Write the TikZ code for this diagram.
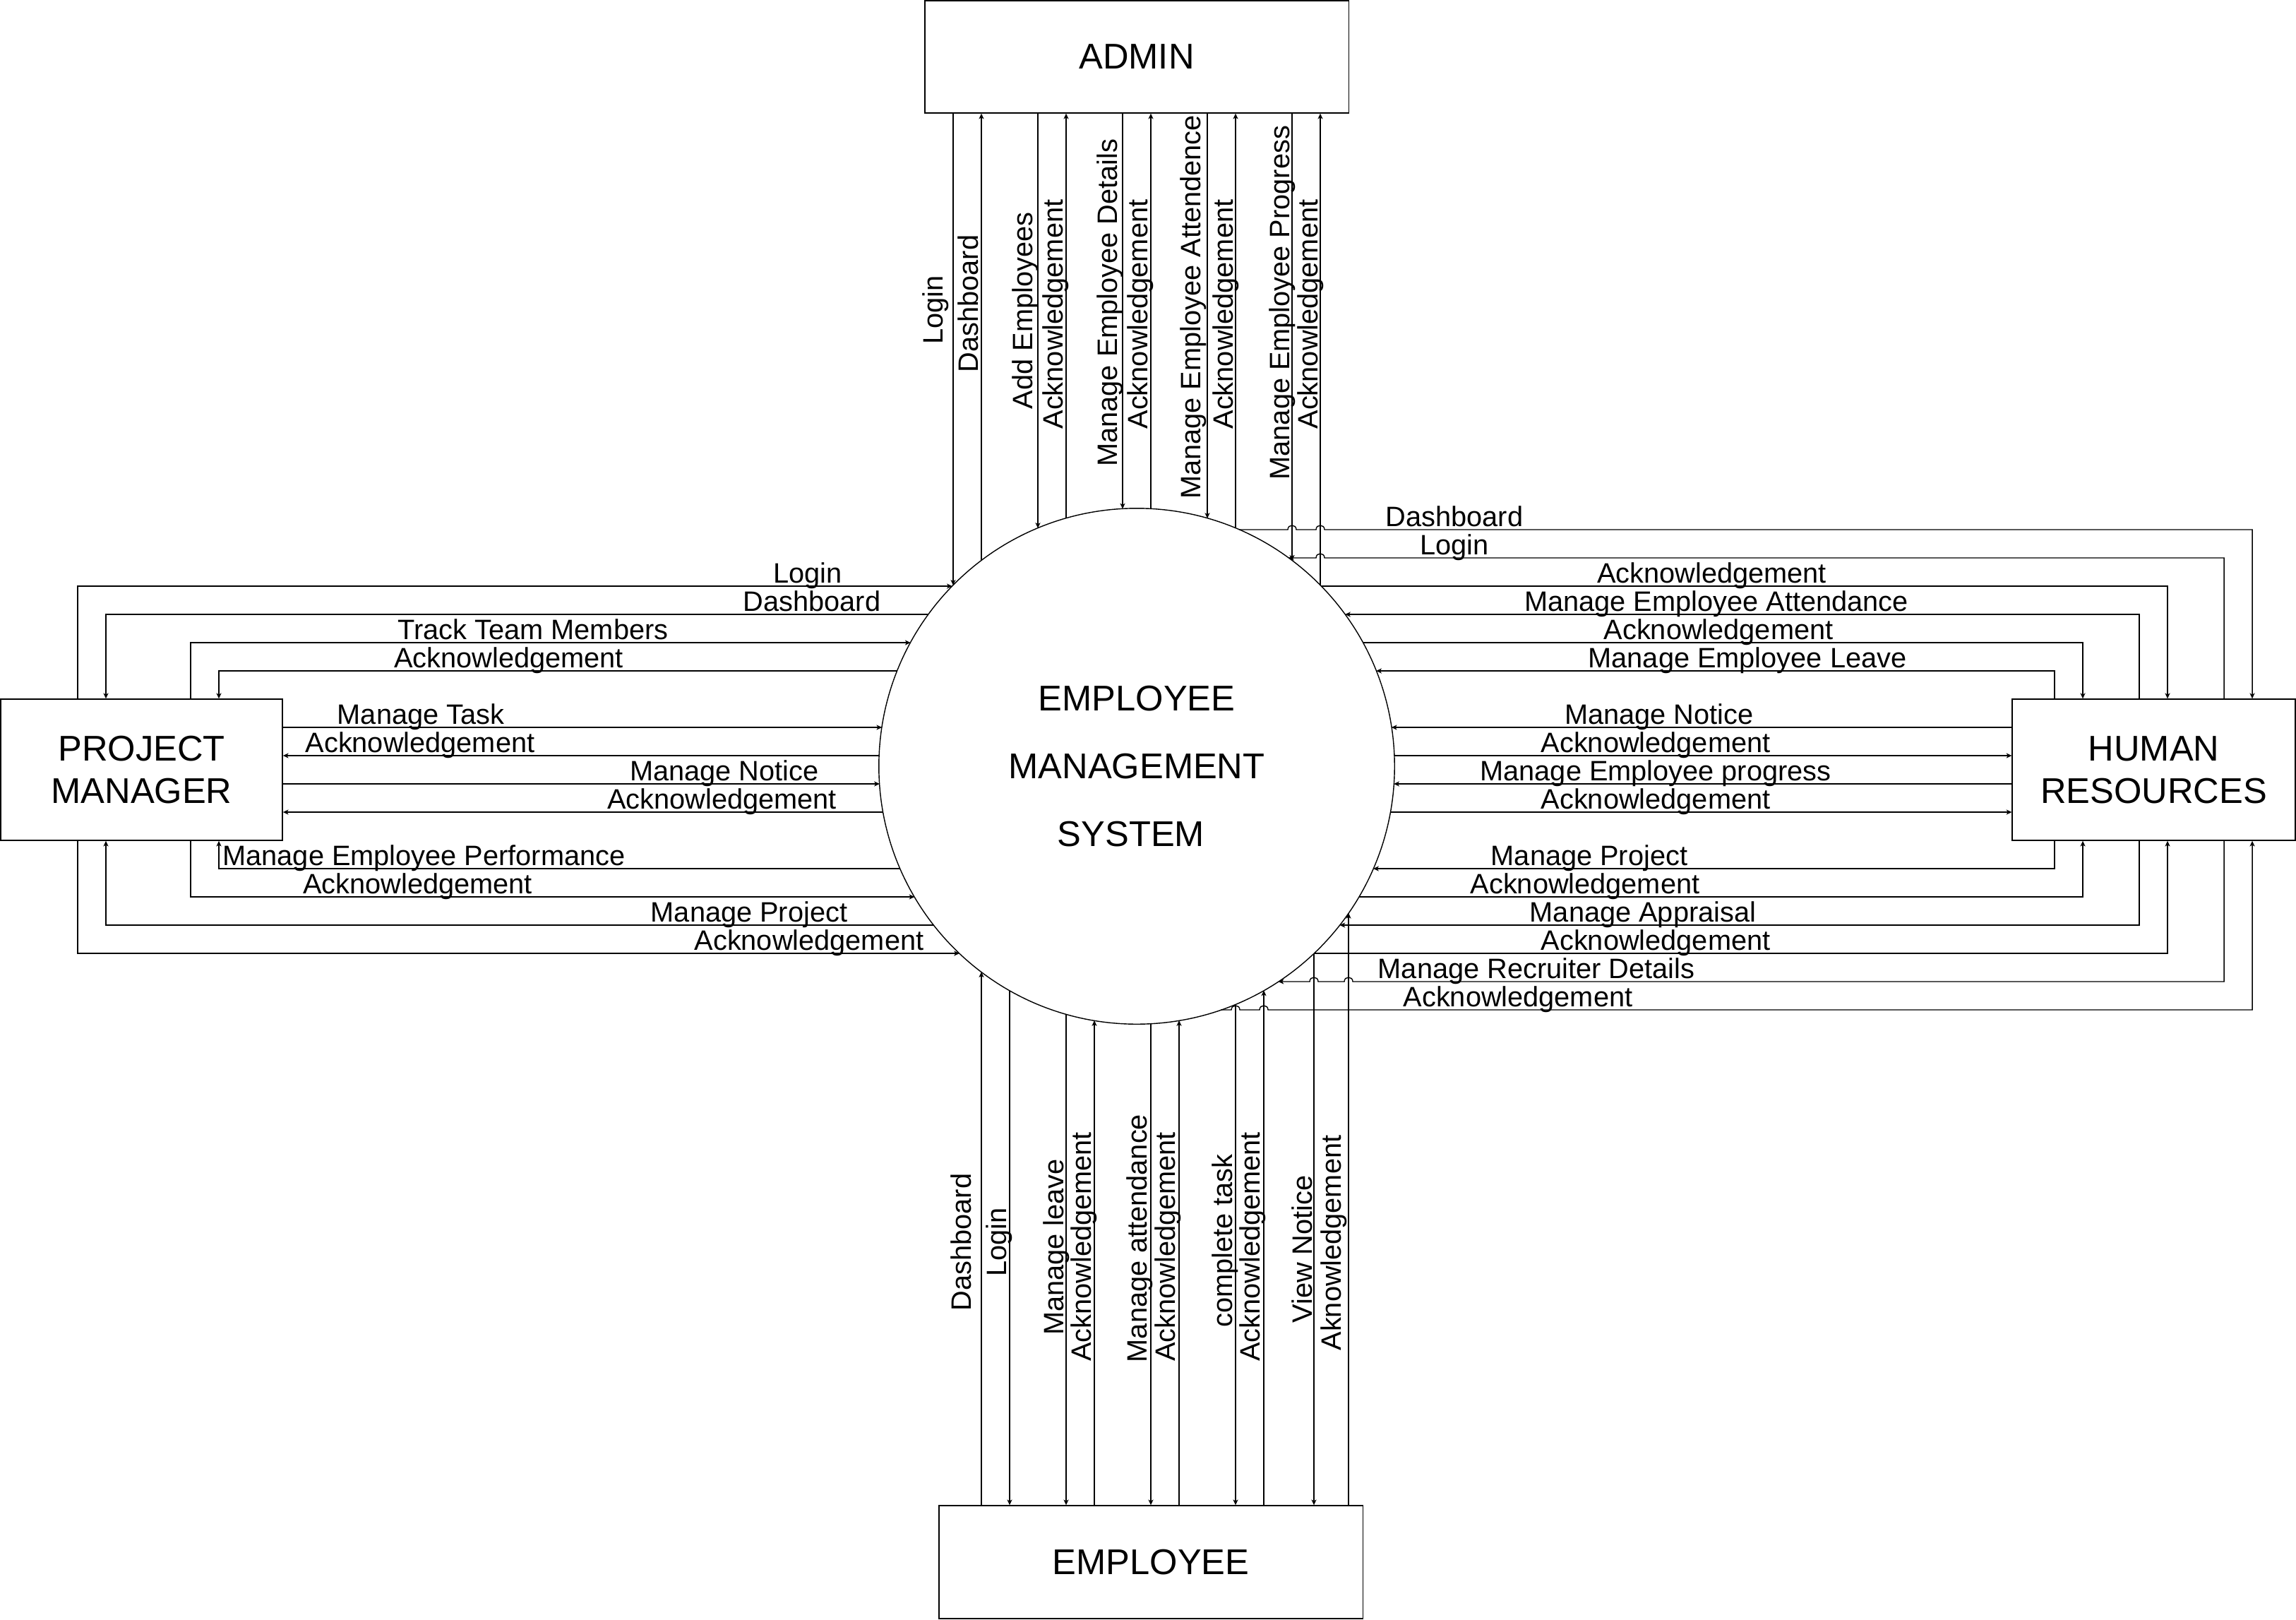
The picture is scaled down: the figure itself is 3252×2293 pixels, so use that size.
\documentclass[tikz,border=0pt]{standalone}
\usepackage{fontspec}
\setmainfont{Liberation Sans}
\usetikzlibrary{arrows.meta}
\newcommand\lblfont{\fontsize{11.3pt}{13pt}\selectfont}
\newcommand\boxfont{\fontsize{14.4pt}{17.1pt}\selectfont}
\newcommand\emsfont{\fontsize{14.4pt}{27.2pt}\selectfont}
\tikzset{
  ln/.style={line width=0.4pt, draw=black},
  arr/.style={ln, -{Stealth[length=2.2pt,width=2pt,inset=0.6pt]}},
  lbl/.style={font=\lblfont, inner sep=0pt, anchor=base},
  vlbl/.style={lbl, rotate=90},
  box/.style={draw, line width=0.4pt, inner sep=0pt, align=center, font=\boxfont, fill=white},
}
\begin{document}
\begin{tikzpicture}[x=0.01cm, y=-0.01cm]
\useasboundingbox (0,0) rectangle (3252,2293);
% entities
\node[box, minimum width=6cm, minimum height=1.59cm] (admin) at (1610,80.5) {ADMIN};
\node[box, minimum width=6cm, minimum height=1.6cm] (employee) at (1630,2212) {EMPLOYEE};
\node[box, minimum width=3.99cm, minimum height=2cm] (pm) at (200.5,1090) {PROJECT\\MANAGER};
\node[box, minimum width=4.005cm, minimum height=2cm] (hr) at (3050.5,1090) {HUMAN\\RESOURCES};
\node[draw, circle, line width=0.4pt, minimum size=7.3cm, inner sep=0pt, outer sep=0pt, align=center, font=\emsfont] (ems) at (1610,1085) {EMPLOYEE\\MANAGEMENT\\SYSTEM\hspace*{0.16cm}};
% circle points
\coordinate (T1) at (1350,828.8);
\coordinate (T2) at (1390,793.8);
\coordinate (T3) at (1470,747.9);
\coordinate (T4) at (1510,734.0);
\coordinate (T5) at (1590,720.5);
\coordinate (T6) at (1630,720.5);
\coordinate (T7) at (1710,734.0);
\coordinate (T8) at (1750,747.9);
\coordinate (T9) at (1830,793.8);
\coordinate (T10) at (1870,828.8);
\coordinate (B1) at (1390,1376.2);
\coordinate (B2) at (1430,1402.5);
\coordinate (B3) at (1510,1436.0);
\coordinate (B4) at (1550,1445.0);
\coordinate (B5) at (1630,1449.5);
\coordinate (B6) at (1670,1445.0);
\coordinate (B7) at (1750,1422.1);
\coordinate (B8) at (1790,1402.5);
\coordinate (B9) at (1861,1350.0);
\coordinate (B10) at (1910,1292.9);
\coordinate (L1) at (1348.8,830);
\coordinate (L2) at (1315.0,870);
\coordinate (L3) at (1289.7,910);
\coordinate (L4) at (1270.9,950);
\coordinate (L5) at (1249.2,1030);
\coordinate (L6) at (1245.3,1070);
\coordinate (L7) at (1245.9,1110);
\coordinate (L8) at (1250.8,1150);
\coordinate (L9) at (1275.0,1230);
\coordinate (L10) at (1295.4,1270);
\coordinate (L11) at (1322.6,1310);
\coordinate (L12) at (1359.0,1350);
\coordinate (R1) at (1754.9,750);
\coordinate (R2) at (1824.9,790);
\coordinate (R3) at (1871.2,830);
\coordinate (R4) at (1905.0,870);
\coordinate (R5) at (1930.3,910);
\coordinate (R6) at (1949.1,950);
\coordinate (R7) at (1970.8,1030);
\coordinate (R8) at (1974.7,1070);
\coordinate (R9) at (1974.1,1110);
\coordinate (R10) at (1969.2,1150);
\coordinate (R11) at (1945.0,1230);
\coordinate (R12) at (1924.6,1270);
\coordinate (R13) at (1897.4,1310);
\coordinate (R14) at (1861.0,1350);
\coordinate (R15) at (1810.5,1390);
\coordinate (R16) at (1729.2,1430);
% ADMIN flows
\draw[arr] (T1 |- admin.south) -- (T1);
\draw[arr] (T2) -- (T2 |- admin.south);
\draw[arr] (T3 |- admin.south) -- (T3);
\draw[arr] (T4) -- (T4 |- admin.south);
\draw[arr] (T5 |- admin.south) -- (T5);
\draw[arr] (T6) -- (T6 |- admin.south);
\draw[arr] (T7 |- admin.south) -- (T7);
\draw[arr] (T8) -- (T8 |- admin.south);
\draw[arr] (T9 |- admin.south) -- (T9);
\draw[arr] (T10) -- (T10 |- admin.south);
% EMPLOYEE flows
\draw[arr] (B1 |- employee.north) -- (B1);
\draw[arr] (B2) -- (B2 |- employee.north);
\draw[arr] (B3) -- (B3 |- employee.north);
\draw[arr] (B4 |- employee.north) -- (B4);
\draw[arr] (B5) -- (B5 |- employee.north);
\draw[arr] (B6 |- employee.north) -- (B6);
\draw[arr] (B7) -- (B7 |- employee.north);
\draw[arr] (B8 |- employee.north) -- (B8);
\draw[arr] (B9) -- (B9 |- employee.north);
\draw[arr] (B10 |- employee.north) -- (B10);
% PROJECT MANAGER flows
\draw[arr] (pm.north -| 110,0) |- (L1);
\draw[arr] (L2) -| (pm.north -| 150,0);
\draw[arr] (pm.north -| 270,0) |- (L3);
\draw[arr] (L4) -| (pm.north -| 310,0);
\draw[arr] (L5 -| pm.east) -- (L5);
\draw[arr] (L6) -- (L6 -| pm.east);
\draw[arr] (L7 -| pm.east) -- (L7);
\draw[arr] (L8) -- (L8 -| pm.east);
\draw[arr] (L9) -| (pm.south -| 310,0);
\draw[arr] (pm.south -| 270,0) |- (L10);
\draw[arr] (L11) -| (pm.south -| 150,0);
\draw[arr] (pm.south -| 110,0) |- (L12);
% HUMAN RESOURCES flows
\draw[arr] (R1) -- (1824,750) .. controls (1824,742) and (1836,742) .. (1836,750) -- (1864,750) .. controls (1864,742) and (1876,742) .. (1876,750) -| (hr.north -| 3190,0);
\draw[arr] (hr.north -| 3150,0) |- (1876,790) .. controls (1876,782) and (1864,782) .. (1864,790) -- (R2);
\draw[arr] (R3) -| (hr.north -| 3070,0);
\draw[arr] (hr.north -| 3030,0) |- (R4);
\draw[arr] (R5) -| (hr.north -| 2950,0);
\draw[arr] (hr.north -| 2910,0) |- (R6);
\draw[arr] (R7 -| hr.west) -- (R7);
\draw[arr] (R8) -- (R8 -| hr.west);
\draw[arr] (R9 -| hr.west) -- (R9);
\draw[arr] (R10) -- (R10 -| hr.west);
\draw[arr] (hr.south -| 2910,0) |- (R11);
\draw[arr] (R12) -| (hr.south -| 2950,0);
\draw[arr] (hr.south -| 3030,0) |- (R13);
\draw[arr] (R14) -| (hr.south -| 3070,0);
\draw[arr] (hr.south -| 3150,0) |- (1916,1390) .. controls (1916,1382) and (1904,1382) .. (1904,1390) -- (1867,1390) .. controls (1867,1382) and (1855,1382) .. (1855,1390) -- (R15);
\draw[arr] (R16) -- (1744,1430) .. controls (1744,1422) and (1756,1422) .. (1756,1430) -- (1784,1430) .. controls (1784,1422) and (1796,1422) .. (1796,1430) -| (hr.south -| 3190,0);
% top labels
\node[vlbl] (ta1) at (1335,439) {Login};
\node[vlbl] (ta2) at (1385,430) {Dashboard};
\node[vlbl] (ta3) at (1462,440) {Add Employees};
\node[vlbl] (ta4) at (1505,445) {Acknowledgement};
\node[vlbl] (ta5) at (1582,428.6) {Manage Employee Details};
\node[vlbl] (ta6) at (1625,445) {Acknowledgement};
\node[vlbl] (ta7) at (1700,435) {Manage Employee Attendence};
\node[vlbl] (ta8) at (1746,445) {Acknowledgement};
\node[vlbl] (ta9) at (1826,428.6) {Manage Employee Progress};
\node[vlbl] (ta10) at (1866,445) {Acknowledgement};
% bottom labels
\node[vlbl] (tb1) at (1375,1759) {Dashboard};
\node[vlbl] (tb2) at (1425.6,1759) {Login};
\node[vlbl] (tb3) at (1506,1766) {Manage leave};
\node[vlbl] (tb4) at (1545,1765.5) {Acknowledgement};
\node[vlbl] (tb5) at (1624,1753.5) {Manage attendance};
\node[vlbl] (tb6) at (1664,1765.5) {Acknowledgement};
\node[vlbl] (tb7) at (1745,1757) {complete task};
\node[vlbl] (tb8) at (1784,1765.5) {Acknowledgement};
\node[vlbl] (tb9) at (1858,1769) {View Notice};
\node[vlbl] (tb10) at (1899,1760) {Aknowledgement};
% left labels
\node[lbl] (tl1) at (1144,825) {Login};
\node[lbl] (tl2) at (1150,865) {Dashboard};
\node[lbl] (tl3) at (755,905) {Track Team Members};
\node[lbl] (tl4) at (720.5,945) {Acknowledgement};
\node[lbl] (tl5) at (596,1025) {Manage Task};
\node[lbl] (tl6) at (595,1065) {Acknowledgement};
\node[lbl] (tl7) at (1026,1105) {Manage Notice};
\node[lbl] (tl8) at (1022.5,1145) {Acknowledgement};
\node[lbl] (tl9) at (600.5,1225) {Manage Employee Performance};
\node[lbl] (tl10) at (591.5,1265) {Acknowledgement};
\node[lbl] (tl11) at (1061,1305) {Manage Project};
\node[lbl] (tl12) at (1146,1345) {Acknowledgement};
% right labels
\node[lbl] (tr1) at (2060,745) {Dashboard};
\node[lbl] (tr2) at (2060,785) {Login};
\node[lbl] (tr3) at (2424.5,825) {Acknowledgement};
\node[lbl] (tr4) at (2431,865) {Manage Employee Attendance};
\node[lbl] (tr5) at (2434,905) {Acknowledgement};
\node[lbl] (tr6) at (2475,945) {Manage Employee Leave};
\node[lbl] (tr7) at (2350,1025) {Manage Notice};
\node[lbl] (tr8) at (2345,1065) {Acknowledgement};
\node[lbl] (tr9) at (2345,1105) {Manage Employee progress};
\node[lbl] (tr10) at (2345,1145) {Acknowledgement};
\node[lbl] (tr11) at (2251,1225) {Manage Project};
\node[lbl] (tr12) at (2245,1265) {Acknowledgement};
\node[lbl] (tr13) at (2327,1305) {Manage Appraisal};
\node[lbl] (tr14) at (2345,1345) {Acknowledgement};
\node[lbl] (tr15) at (2176,1385) {Manage Recruiter Details};
\node[lbl] (tr16) at (2150,1425) {Acknowledgement};
\end{tikzpicture}
\end{document}
